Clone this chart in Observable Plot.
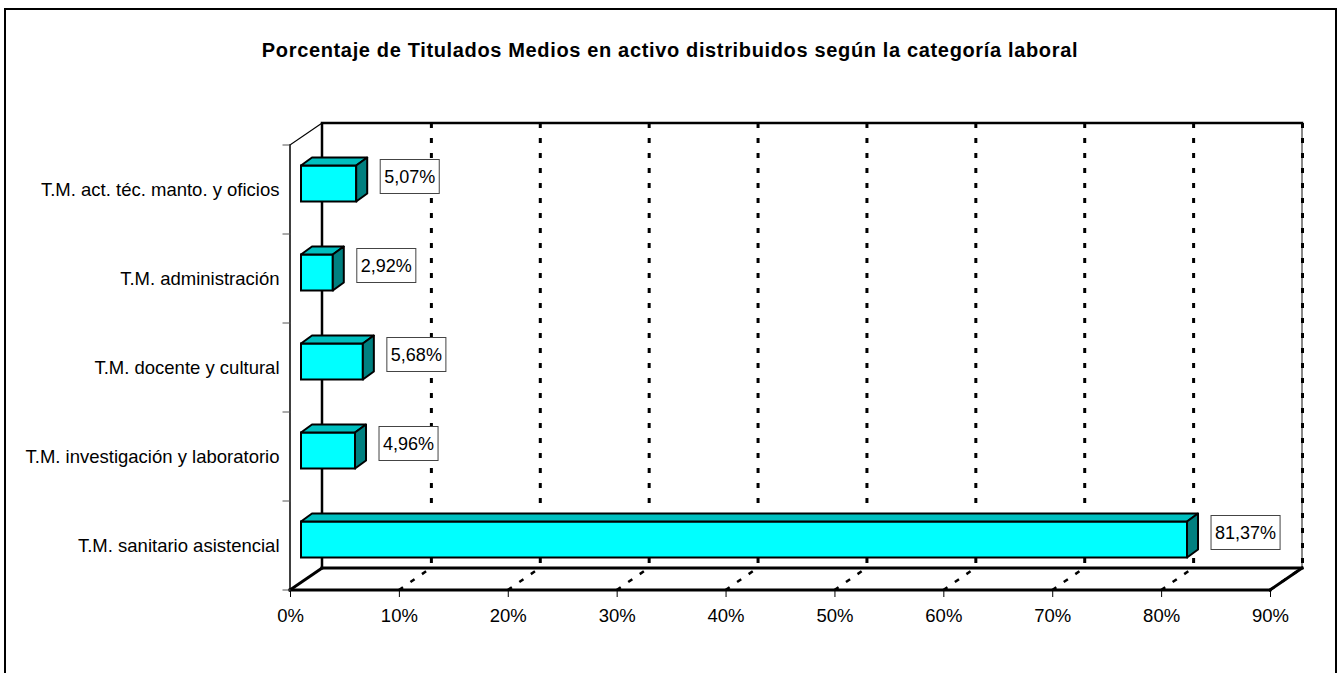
<!DOCTYPE html>
<html>
<head>
<meta charset="utf-8">
<script src="https://cdn.jsdelivr.net/npm/d3@7"></script>
<script src="https://cdn.jsdelivr.net/npm/@observablehq/plot@0.6"></script>
<style>
  html, body { margin: 0; padding: 0; background: #fff; overflow: hidden; }
  body { position: relative; width: 1340px; height: 673px; font-family: "Liberation Sans", Arial, sans-serif; }
  #border { position: absolute; left: 4px; top: 8px; width: 1333px; height: 720px; border: 2px solid #000; box-sizing: border-box; pointer-events: none; }
  #title { position: relative; height: 100px; }
  #title span { position: absolute; left: 0; right: 0; top: 39px; text-align: center; font-weight: bold; font-size: 20px; letter-spacing: 0.65px; line-height: 22px; color: #000; }
  #chart svg { display: block; overflow: visible; }
</style>
</head>
<body>
<div id="title"><span>Porcentaje de Titulados Medios en activo distribuidos según la categoría laboral</span></div>
<div id="chart"></div>
<div id="border"></div>
<script>
// ---- data ----
const categories = [
  "T.M. act. téc. manto. y oficios",
  "T.M. administración",
  "T.M. docente y cultural",
  "T.M. investigación y laboratorio",
  "T.M. sanitario asistencial"
];
const values = [5.07, 2.92, 5.68, 4.96, 81.37];
const valueLabels = ["5,07%", "2,92%", "5,68%", "4,96%", "81,37%"];
const xTicks = [0, 10, 20, 30, 40, 50, 60, 70, 80, 90];
const xTickLabels = ["0%", "10%", "20%", "30%", "40%", "50%", "60%", "70%", "80%", "90%"];
const gridValues = [10, 20, 30, 40, 50, 60, 70, 80, 90];

const data = categories.map((c, i) => ({cat: c, value: values[i], label: valueLabels[i]}));

// ---- 3D style constants ----
const DEPTH = [32, -22];      // full wall depth offset
const BAR_OFF = [11, -6];     // bar front face offset
const BAR_DEPTH = [11, -8];   // bar depth
const BAR_H = 36;
const FONT = "'Liberation Sans', Arial, sans-serif";

function bandInfo(y) {
  const r = y.range();
  const bw = y.bandwidth ? y.bandwidth() : (r[1] - r[0]) / categories.length;
  return {top: Math.min(r[0], r[1]), bottom: Math.max(r[0], r[1]), bw};
}

// Frame: back wall, floor, left axis
function frame3d(index, scales) {
  const x = scales.x, y = scales.y;
  const {top, bottom, bw} = bandInfo(y);
  const x0 = x(xTicks[0]), x9 = x(xTicks[xTicks.length - 1]);
  const [dx, dy] = DEPTH;
  const g = d3.create("svg:g").attr("fill", "none").attr("stroke-linecap", "square");
  const line = (a, b, c, d, w, col) => g.append("line").attr("x1", a).attr("y1", b).attr("x2", c).attr("y2", d).attr("stroke", col || "#000").attr("stroke-width", w);
  // right wall edge (grey)
  line(x9 + dx, top + dy, x9 + dx, bottom + dy, 2, "#888");
  // back wall
  g.append("polyline").attr("points", [[x0 + dx, bottom + dy], [x0 + dx, top + dy], [x9 + dx, top + dy]].join(" "))
    .attr("stroke", "#000").attr("stroke-width", 2.5);
  line(x0 + dx, bottom + dy, x9 + dx, bottom + dy, 3);
  // floor
  line(x0, bottom, x9, bottom, 3);
  line(x0, bottom, x0 + dx, bottom + dy, 3);
  line(x9, bottom, x9 + dx, bottom + dy, 3);
  // left front axis
  line(x0, top, x0, bottom, 1.5);
  line(x0, top, x0 + dx, top + dy, 1.2);
  // category boundary ticks
  for (let i = 0; i <= categories.length; i++) {
    const yy = top + i * bw;
    line(x0 - 7, yy, x0, yy, 1, "#555");
  }
  return g.node();
}

// Floor gridline diagonals (dashed)
function floorGrid(index, scales) {
  const x = scales.x, y = scales.y;
  const {bottom} = bandInfo(y);
  const [dx, dy] = DEPTH;
  const g = d3.create("svg:g");
  for (const v of gridValues) {
    g.append("line").attr("x1", x(v)).attr("y1", bottom).attr("x2", x(v) + dx).attr("y2", bottom + dy)
      .attr("stroke", "#000").attr("stroke-width", 2.5).attr("stroke-dasharray", "5,9");
  }
  return g.node();
}

// Bar top and side faces
function barFaces(index, scales) {
  const x = scales.x, y = scales.y;
  const {bw} = bandInfo(y);
  const g = d3.create("svg:g").attr("stroke", "#000").attr("stroke-width", 2).attr("stroke-linejoin", "round");
  const [bx, by] = BAR_DEPTH;
  for (const d of data) {
    const cy = y(d.cat) + bw / 2 + BAR_OFF[1];
    const yt = cy - BAR_H / 2, yb = cy + BAR_H / 2;
    const xa = x(0) + BAR_OFF[0], xb = x(d.value) + BAR_OFF[0];
    g.append("polygon").attr("fill", "#00BFBF")
      .attr("points", [[xa, yt], [xb, yt], [xb + bx, yt + by], [xa + bx, yt + by]].join(" "));
    g.append("polygon").attr("fill", "#008080")
      .attr("points", [[xb, yt], [xb + bx, yt + by], [xb + bx, yb + by], [xb, yb]].join(" "));
  }
  return g.node();
}

// Value label boxes
const ctx = document.createElement("canvas").getContext("2d");
ctx.font = "18px " + FONT;
function labelBoxes(index, scales) {
  const x = scales.x, y = scales.y;
  const {bw} = bandInfo(y);
  const g = d3.create("svg:g");
  for (const d of data) {
    const cy = y(d.cat) + bw / 2 + BAR_OFF[1] - 7;
    const left = x(d.value) + BAR_OFF[0] + BAR_DEPTH[0] + 13;
    const tw = ctx.measureText(d.label).width;
    g.append("rect").attr("x", left).attr("y", cy - 17).attr("width", tw + 8).attr("height", 34)
      .attr("fill", "#fff").attr("stroke", "#444").attr("stroke-width", 1);
    g.append("text").attr("x", left + 4).attr("y", cy + 6.5).attr("font-size", 18)
      .attr("text-anchor", "start")
      .attr("font-family", FONT).attr("fill", "#000").text(d.label);
  }
  return g.node();
}

const plot = Plot.plot({
  width: 1340,
  height: 573,
  marginLeft: 290,
  marginRight: 70,
  marginTop: 45,
  marginBottom: 83,
  style: {fontFamily: FONT, fontSize: "18.5px", color: "#000", background: "transparent", overflow: "visible"},
  x: {domain: [0, 90], ticks: xTicks, tickFormat: d => xTickLabels[xTicks.indexOf(d)], tickSize: 7, tickPadding: 11, label: null},
  y: {domain: categories, padding: 0, tickSize: 0, tickPadding: 11, label: null},
  marks: [
    frame3d,
    Plot.ruleX(gridValues, {x: d => d, dx: DEPTH[0], dy: DEPTH[1], stroke: "#000", strokeWidth: 3, strokeDasharray: "5,10"}),
    floorGrid,
    Plot.barX(data, {x: "value", y: "cat", dx: BAR_OFF[0], dy: BAR_OFF[1], insetTop: (89 - BAR_H) / 2, insetBottom: (89 - BAR_H) / 2,
      fill: "#00FFFF", stroke: "#000", strokeWidth: 2}),
    barFaces,
    labelBoxes
  ]
});
document.getElementById("chart").appendChild(plot);
</script>
</body>
</html>
